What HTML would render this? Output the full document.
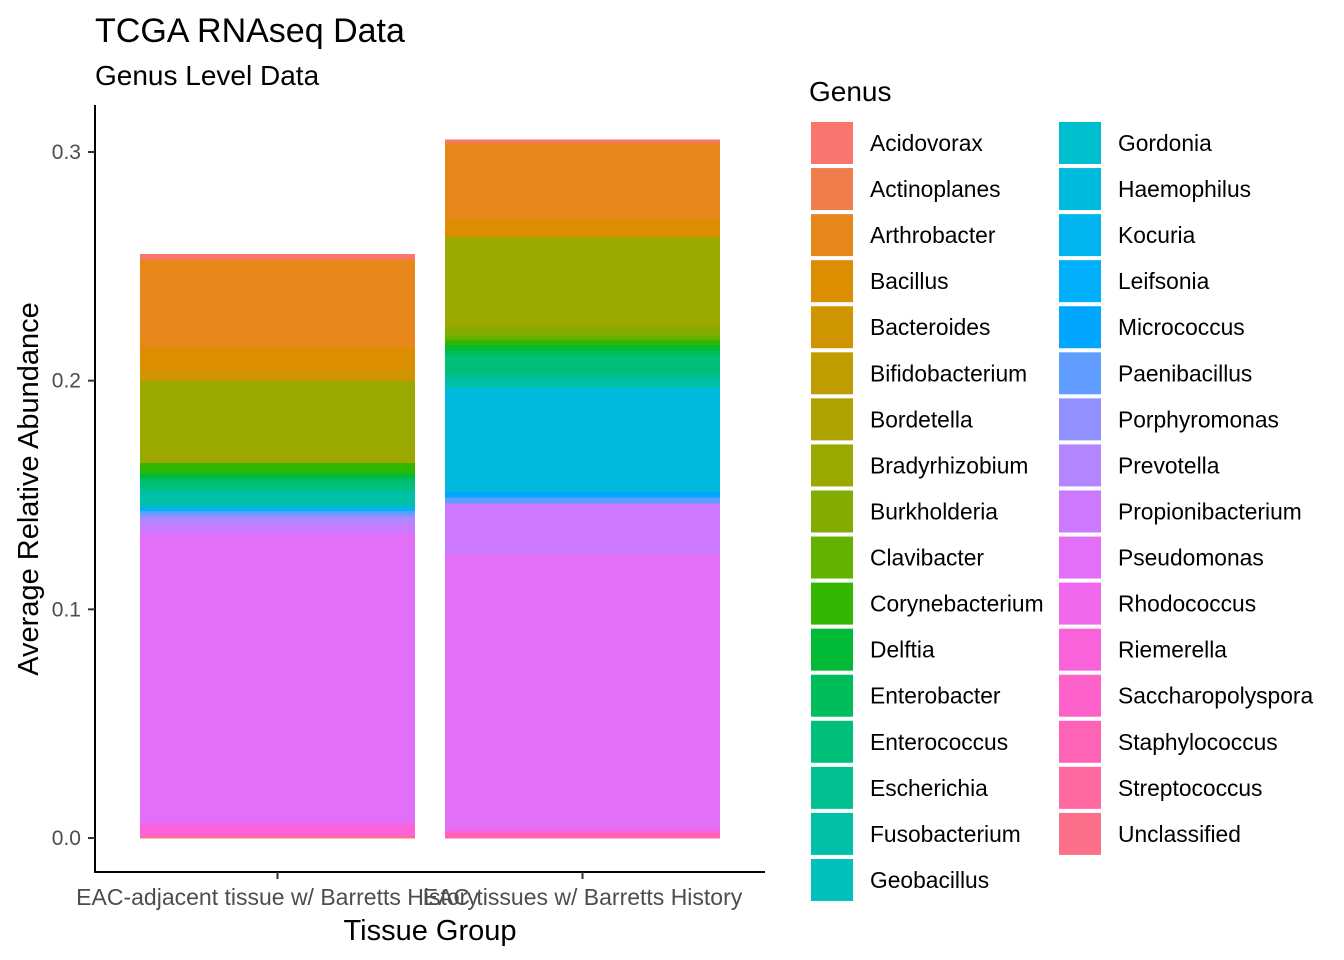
<!DOCTYPE html>
<html><head><meta charset="utf-8"><style>
body{margin:0;background:#fff;}
svg{display:block;font-family:"Liberation Sans",Arial,sans-serif;}
</style></head><body>
<svg id="chart" width="1344" height="960" viewBox="0 0 1344 960">
<text x="95" y="42" font-size="34" fill="#000">TCGA RNAseq Data</text>
<text x="95" y="85" font-size="28" fill="#000">Genus Level Data</text>
<g id="bars" shape-rendering="crispEdges"></g>
<g id="axes"></g>
<g id="legend"></g>
</svg>
<script>
const genera = ["Acidovorax","Actinoplanes","Arthrobacter","Bacillus","Bacteroides","Bifidobacterium","Bordetella","Bradyrhizobium","Burkholderia","Clavibacter","Corynebacterium","Delftia","Enterobacter","Enterococcus","Escherichia","Fusobacterium","Geobacillus","Gordonia","Haemophilus","Kocuria","Leifsonia","Micrococcus","Paenibacillus","Porphyromonas","Prevotella","Propionibacterium","Pseudomonas","Rhodococcus","Riemerella","Saccharopolyspora","Staphylococcus","Streptococcus","Unclassified"];
const groups = ["EAC-adjacent tissue w/ Barretts History","EAC tissues w/ Barretts History"];
const adjacentValues = [0.0016,0.0010,0.0386,0.0095,0.0047,0,0,0.0359,0,0,0.0044,0.0020,0.0015,0.0033,0.0009,0.0067,0,0,0,0.0022,0,0,0.0019,0.0012,0.0032,0.0039,0.1264,0,0.0054,0,0,0,0.0012];
const eacValues = [0.0013,0,0.0338,0.0073,0,0,0,0.0394,0.0039,0.0017,0.0022,0.0026,0.0022,0.0080,0.0022,0.0037,0,0,0.0456,0,0,0.0025,0.0026,0,0,0.0221,0.1198,0.0017,0,0,0.0029,0,0];
const yTicks = [0,0.1,0.2,0.3];
const yTickLabels = ["0.0","0.1","0.2","0.3"];

const NS="http://www.w3.org/2000/svg";
function mk(tag,attrs,parent){const e=document.createElementNS(NS,tag);for(const k in attrs)e.setAttribute(k,attrs[k]);parent.appendChild(e);return e;}
function hcl(h){const L=65,C=100;const hr=h*Math.PI/180;const u=C*Math.cos(hr),v=C*Math.sin(hr);
 const Xn=95.047,Yn=100,Zn=108.883;const Y=Yn*Math.pow((L+16)/116,3);
 const d=Xn+15*Yn+3*Zn;const un=4*Xn/d,vn=9*Yn/d;const up=u/(13*L)+un,vp=v/(13*L)+vn;
 const X=9*Y*up/(4*vp);const Z=-X/3-5*Y+3*Y/vp;
 const x=X/100,y=Y/100,z=Z/100;
 let r=3.240479*x-1.537150*y-0.498535*z,g=-0.969256*x+1.875992*y+0.041556*z,b=0.055648*x-0.204043*y+1.057311*z;
 const gm=c=>{c=c<=0.0031308?12.92*c:1.055*Math.pow(c,1/2.4)-0.055;return Math.round(Math.max(0,Math.min(1,c))*255);};
 return "rgb("+gm(r)+","+gm(g)+","+gm(b)+")";}
const n=genera.length;
const colors=genera.map((g,i)=>hcl(15+360*i/n));

const y0=838, pxPerUnit=686/0.3;
const yScale=v=>y0-v*pxPerUnit;
const barW=275, centers=[277.5,582.5];
const xScale=i=>centers[i];
const series=[adjacentValues,eacValues];
const barsG=document.getElementById('bars');
series.forEach((vals,gi)=>{
  let cum=0;
  for(let i=n-1;i>=0;i--){
    const v=vals[i]; if(v<=0) continue;
    const r=mk('rect',{x:xScale(gi)-barW/2,y:yScale(cum+v),width:barW,height:v*pxPerUnit+0.6,fill:colors[i]},barsG);
    
    
    cum+=v;
  }
});
const ax=document.getElementById('axes');
mk('line',{x1:95,y1:105,x2:95,y2:873,stroke:'#000','stroke-width':2},ax);
mk('line',{x1:94,y1:872,x2:765,y2:872,stroke:'#000','stroke-width':2},ax);
yTicks.forEach((t,i)=>{
  const y=yScale(t);
  mk('line',{x1:88,y1:y,x2:95,y2:y,stroke:'#333','stroke-width':2},ax);
  const tx=mk('text',{x:81,y:y+7,'font-size':21,'text-anchor':'end',fill:'#4D4D4D'},ax);
  tx.textContent=yTickLabels[i];
  
  
});
groups.forEach((g,i)=>{
  mk('line',{x1:xScale(i),y1:872,x2:xScale(i),y2:879,stroke:'#333','stroke-width':2},ax);
  const tx=mk('text',{x:xScale(i),y:905,'font-size':23,'text-anchor':'middle',fill:'#4D4D4D'},ax);
  tx.textContent=g;
  
  
});
let t=mk('text',{x:430,y:940,'font-size':29,'text-anchor':'middle',fill:'#000'},ax);
t.textContent='Tissue Group';


t=mk('text',{x:0,y:0,'font-size':29,'text-anchor':'middle',fill:'#000',transform:'translate(38,489) rotate(-90)'},ax);
t.textContent='Average Relative Abundance';



const lg=document.getElementById('legend');
t=mk('text',{x:809,y:101,'font-size':28,fill:'#000'},lg);
t.textContent='Genus';


genera.forEach((g,i)=>{
  const col=i<17?0:1, row=i<17?i:i-17;
  const kx=col===0?811:1059, cy=143+row*46.06;
  const e=mk('g',{},lg);
  
  
  mk('rect',{x:kx,y:cy-21,width:42,height:42,fill:colors[i]},e);
  const tx=mk('text',{x:kx+59,y:cy+8,'font-size':22.8,fill:'#000'},e);
  tx.textContent=g;
});
</script>
</body></html>
